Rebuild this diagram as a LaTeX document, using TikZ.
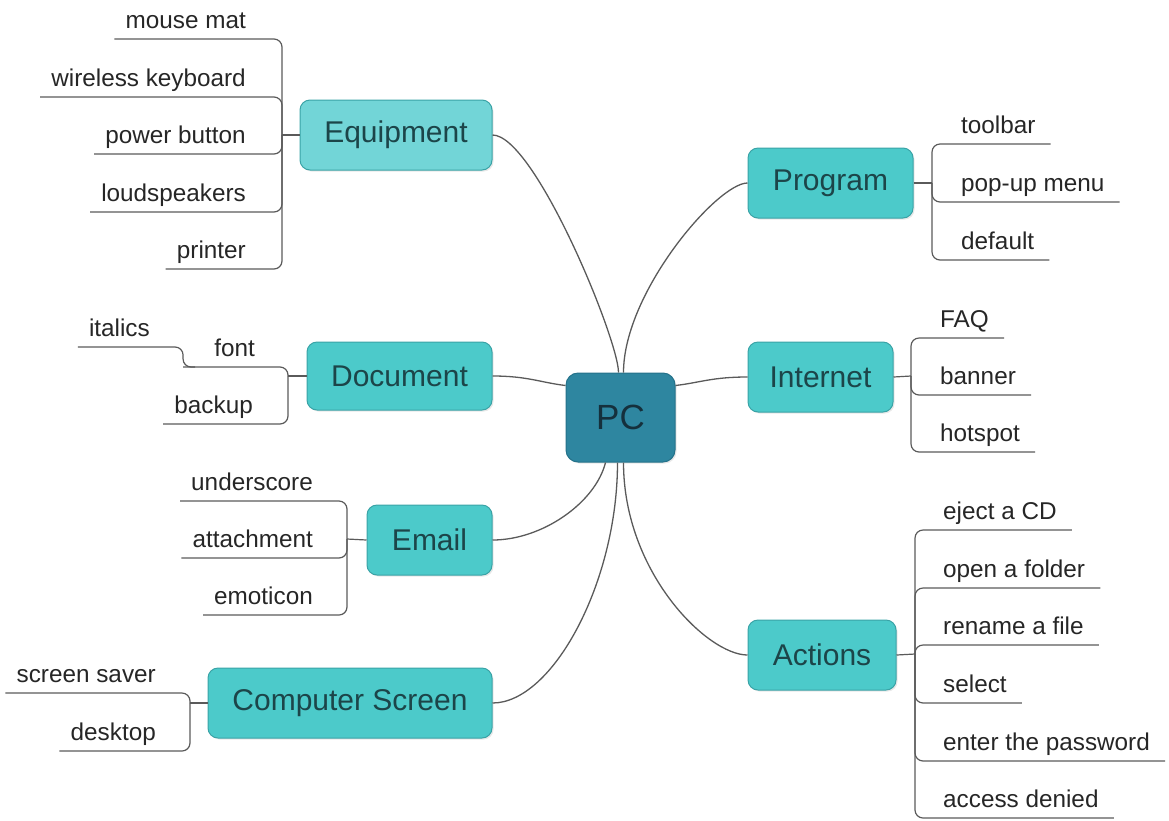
\documentclass[tikz,border=0pt]{standalone}
\usepackage{fontspec}
\setmainfont{Liberation Sans}
\usetikzlibrary{shadows}

\definecolor{topicfill}{HTML}{4CCACA}
\definecolor{topiclight}{HTML}{72D5D7}
\definecolor{topicedge}{HTML}{3AA3A6}
\definecolor{rootfill}{HTML}{2E86A0}
\definecolor{rootedge}{HTML}{25728A}
\definecolor{linkgray}{HTML}{5A5A5A}
\definecolor{topictext}{HTML}{1C4549}
\definecolor{roottext}{HTML}{15303C}
\definecolor{leaftext}{HTML}{262626}

\begin{document}
\begin{tikzpicture}[x=1pt,y=-1pt,
  topic/.style={draw=topicedge, fill=topicfill, line width=1pt,
    rounded corners=10pt, minimum height=70pt, inner sep=0pt,
    text=topictext, font=\fontsize{30}{36}\selectfont,
    drop shadow={opacity=0.18, shadow xshift=1.5pt, shadow yshift=-1.5pt}},
  root/.style={topic, draw=rootedge, fill=rootfill, text=roottext,
    rounded corners=12pt, minimum width=109pt, minimum height=89pt,
    font=\fontsize{35}{42}\selectfont},
  leaf/.style={inner ysep=10.5pt, text depth=0pt, text=leaftext,
    font=\fontsize{24.3}{29}\selectfont},
  leafL/.style={leaf, anchor=south east, inner xsep=11pt},
  leafR/.style={leaf, anchor=south west, inner xsep=15pt},
  link/.style={draw=linkgray, line width=1.3pt},
  twig/.style={draw=linkgray, line width=1.2pt, rounded corners=8pt}
]
\useasboundingbox (0,0) rectangle (1169,820);

% central topic
\node[root] (pc) at (620.5,417.5) {PC};

% main topics
\node[topic, fill=topiclight, minimum width=192pt] (equip) at (396,135) {Equipment};
\node[topic, minimum width=185pt, minimum height=68pt] (doc) at (399.5,376) {Document};
\node[topic, minimum width=125pt] (email) at (429.5,540) {Email};
\node[topic, minimum width=284pt] (screen) at (350,703) {Computer Screen};
\node[topic, minimum width=165pt] (prog) at (830.5,183) {Program};
\node[topic, minimum width=145pt] (inet) at (820.5,377) {Internet};
\node[topic, minimum width=148pt] (act) at (822,655) {Actions};

% links from the central topic
\draw[link] (equip.east) .. controls +(42,0) and +(0,-33) .. ([xshift=-2pt]pc.north);
\draw[link] (prog.west) .. controls +(-30,0) and +(0,-80) .. ([xshift=3pt]pc.north);
\draw[link] (doc.east) .. controls +(35,0) and +(-25,-3) .. ([yshift=32pt]pc.west);
\draw[link] (inet.west) .. controls +(-35,0) and +(25,-3) .. ([yshift=32pt]pc.east);
\draw[link] (email.east) .. controls +(50,0) and +(-10,40) .. ([xshift=-15pt]pc.south);
\draw[link] (screen.east) .. controls +(60,0) and +(0,120) .. ([xshift=-3pt]pc.south);
\draw[link] (act.west) .. controls +(-40,0) and +(0,110) .. ([xshift=3pt]pc.south);

% junction points of the subtopic brackets
\coordinate (eqj) at (282,135);
\coordinate (docj) at (288,376);
\coordinate (emj) at (347,539);
\coordinate (scj) at (190,703);
\coordinate (prj) at (932,183);
\coordinate (inj) at (911,376);
\coordinate (acj) at (915,654);

\draw[twig] (equip.west) -- (eqj);
\draw[twig] (doc.west) -- (docj);
\draw[twig] (email.west) -- (emj);
\draw[twig] (screen.west) -- (scj);
\draw[twig] (prog.east) -- (prj);
\draw[twig] (inet.east) -- (inj);
\draw[twig] (act.east) -- (acj);

% Equipment
\node[leafL] (e1) at (257,39) {mouse mat};
\node[leafL] (e2) at (257,97) {wireless keyboard};
\node[leafL] (e3) at (257,154) {power button};
\node[leafL] (e4) at (257,212) {loudspeakers};
\node[leafL] (e5) at (257,269) {printer};
\foreach \n in {e1,e2,e3,e4,e5} \draw[twig] (eqj) |- (\n.south west);

% Document
\node[leafL] (font) at (266,367) {font};
\node[leafL] (backup) at (264,424) {backup};
\node[leafL] (ital) at (161,347) {italics};
\draw[twig] (docj) |- ([xshift=-20pt]font.south west);
\draw[twig] (docj) |- (backup.south west);
\draw[twig] ([xshift=-8pt]font.south west) -- ([xshift=-20pt]font.south west) |- (ital.south west);

% Email
\node[leafL] (m1) at (324,501) {underscore};
\node[leafL] (m2) at (324,558) {attachment};
\node[leafL] (m3) at (324,615) {emoticon};
\foreach \n in {m1,m2,m3} \draw[twig] (emj) |- (\n.south west);

% Computer Screen
\node[leafL] (s1) at (167,693) {screen saver};
\node[leafL] (s2) at (167,751) {desktop};
\foreach \n in {s1,s2} \draw[twig] (scj) |- (\n.south west);

% Program
\node[leafR] (p1) at (946,144) {toolbar};
\node[leafR] (p2) at (946,202) {pop-up menu};
\node[leafR] (p3) at (946,260) {default};
\foreach \n in {p1,p2,p3} \draw[twig] (prj) |- (\n.south east);

% Internet
\node[leafR] (i1) at (925,338) {FAQ};
\node[leafR] (i2) at (925,395) {banner};
\node[leafR] (i3) at (925,452) {hotspot};
\foreach \n in {i1,i2,i3} \draw[twig] (inj) |- (\n.south east);

% Actions
\node[leafR] (a1) at (928,530) {eject a CD};
\node[leafR] (a2) at (928,588) {open a folder};
\node[leafR] (a3) at (928,645) {rename a file};
\node[leafR] (a4) at (928,703) {select};
\node[leafR] (a5) at (928,761) {enter the password};
\node[leafR] (a6) at (928,818) {access denied};
\foreach \n in {a1,a2,a3,a4,a5,a6} \draw[twig] (acj) |- (\n.south east);
\end{tikzpicture}
\end{document}
